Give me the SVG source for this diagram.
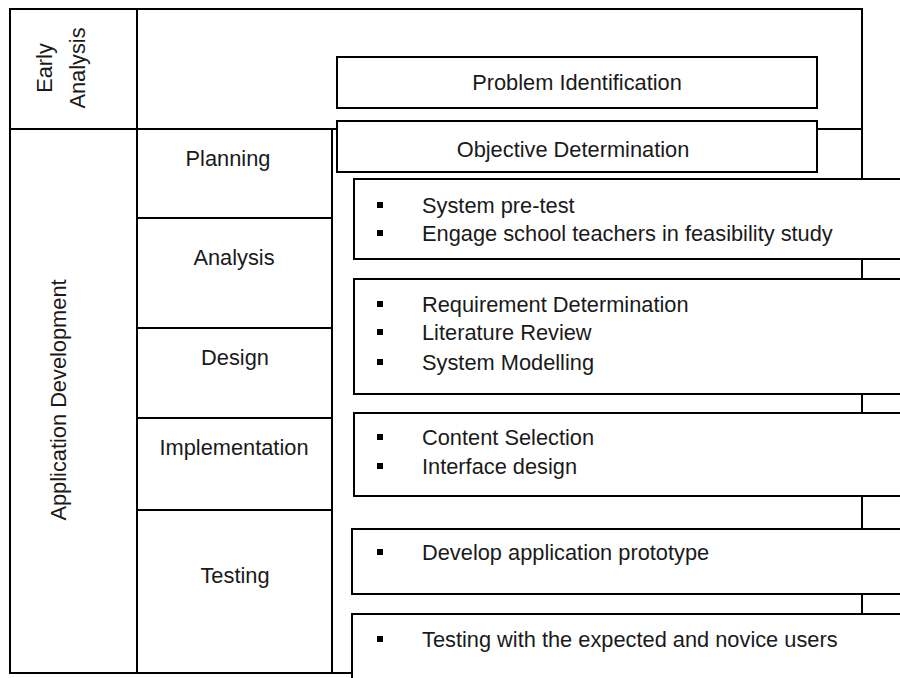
<svg xmlns="http://www.w3.org/2000/svg" width="900" height="678" viewBox="0 0 900 678">
<style>
  .ln { stroke: #000; stroke-width: 2; fill: none; }
  .box { stroke: #000; stroke-width: 2; fill: #fff; }
  .t { font-family: "Liberation Sans", Arial, sans-serif; font-size: 21.8px; fill: #1a1a1a; }
  .c { text-anchor: middle; }
  .b { fill: #000; }
</style>
<rect x="0" y="0" width="900" height="678" fill="#fff"/>
<g id="connectors">
  <rect class="ln" x="10" y="9" width="852" height="664"/>
  <line class="ln" x1="137" y1="9" x2="137" y2="673"/>
  <line class="ln" x1="10" y1="129" x2="862" y2="129"/>
  <line class="ln" x1="332" y1="129" x2="332" y2="673"/>
  <line class="ln" x1="137" y1="218" x2="332" y2="218"/>
  <line class="ln" x1="137" y1="328" x2="332" y2="328"/>
  <line class="ln" x1="137" y1="418" x2="332" y2="418"/>
  <line class="ln" x1="137" y1="510" x2="332" y2="510"/>
</g>
<g id="early-analysis">
  <text class="t c" transform="translate(52,68) rotate(-90)">Early</text>
  <text class="t c" transform="translate(85,68) rotate(-90)">Analysis</text>
</g>
<g id="application-development">
  <text class="t c" transform="translate(66,400) rotate(-90)">Application Development</text>
</g>
<g id="planning"><text class="t c" x="228" y="166">Planning</text></g>
<g id="analysis"><text class="t c" x="234" y="265">Analysis</text></g>
<g id="design"><text class="t c" x="235" y="365">Design</text></g>
<g id="implementation"><text class="t c" x="234" y="455">Implementation</text></g>
<g id="testing"><text class="t c" x="235" y="583">Testing</text></g>
<g id="problem-identification">
  <rect class="box" x="337" y="57" width="480" height="51"/>
  <text class="t c" x="577" y="90">Problem Identification</text>
</g>
<g id="objective-determination">
  <rect class="box" x="337" y="121" width="480" height="51"/>
  <text class="t c" x="573" y="157">Objective Determination</text>
</g>
<g id="box-planning">
  <rect class="box" x="354" y="179" width="570" height="80"/>
  <rect class="b" x="377" y="202" width="6" height="6"/>
  <text class="t" x="422" y="213">System pre-test</text>
  <rect class="b" x="377" y="230" width="6" height="6"/>
  <text class="t" x="422" y="241">Engage school teachers in feasibility study</text>
</g>
<g id="box-analysis">
  <rect class="box" x="354" y="279" width="570" height="115"/>
  <rect class="b" x="377" y="301" width="6" height="6"/>
  <text class="t" x="422" y="312">Requirement Determination</text>
  <rect class="b" x="377" y="329" width="6" height="6"/>
  <text class="t" x="422" y="340">Literature Review</text>
  <rect class="b" x="377" y="359" width="6" height="6"/>
  <text class="t" x="422" y="370">System Modelling</text>
</g>
<g id="box-design">
  <rect class="box" x="354" y="413" width="570" height="83"/>
  <rect class="b" x="377" y="434" width="6" height="6"/>
  <text class="t" x="422" y="445">Content Selection</text>
  <rect class="b" x="377" y="463" width="6" height="6"/>
  <text class="t" x="422" y="474">Interface design</text>
</g>
<g id="box-implementation">
  <rect class="box" x="352" y="529" width="570" height="65"/>
  <rect class="b" x="377" y="549" width="6" height="6"/>
  <text class="t" x="422" y="560">Develop application prototype</text>
</g>
<g id="box-testing">
  <rect class="box" x="352" y="614" width="570" height="90"/>
  <rect class="b" x="377" y="636" width="6" height="6"/>
  <text class="t" x="422" y="647">Testing with the expected and novice users</text>
</g>
</svg>
